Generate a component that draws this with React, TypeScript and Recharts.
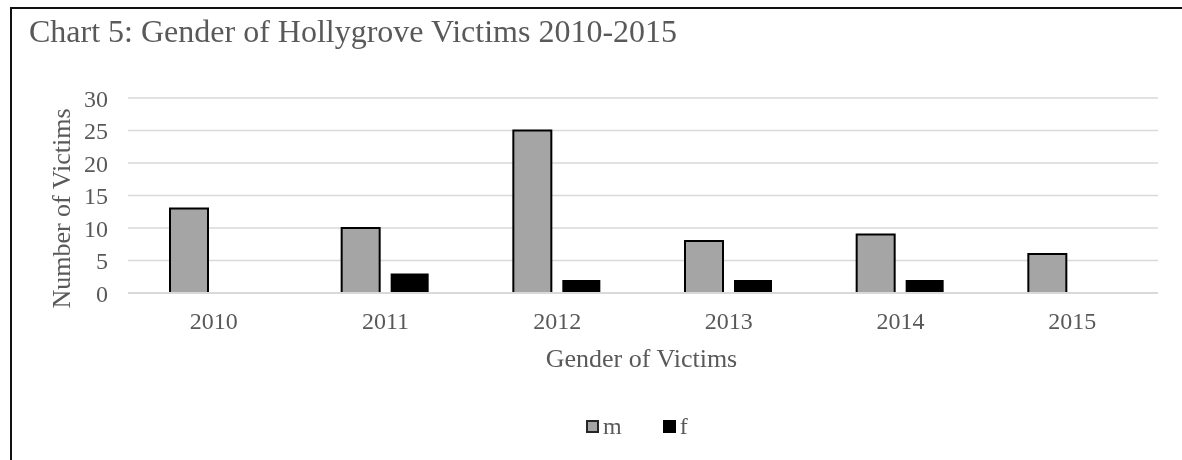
import { BarChart, Bar, XAxis, YAxis, CartesianGrid, Legend, ReferenceLine } from "recharts";

const years = ["2010", "2011", "2012", "2013", "2014", "2015"];
const male = [13, 10, 25, 8, 9, 6];
const female = [0, 3, 2, 2, 2, 0];
const yTicks = [0, 5, 10, 15, 20, 25, 30];
const seriesOrder = ["m", "f"];

const data = years.map((year, i) => ({ year, m: male[i], f: female[i] }));

const FONT = '"Liberation Serif", "Times New Roman", serif';
const TEXT = "#595959";
const GRID = "#d9d9d9";

// legend swatches: grey box with dark outline for m, solid black for f
const LegendContent = ({ payload }: any) => {
  const items = [...(payload || [])].sort(
    (a: any, b: any) => seriesOrder.indexOf(a.dataKey) - seriesOrder.indexOf(b.dataKey)
  );
  return (
    <div style={{ display: "flex", alignItems: "center", height: 30, fontFamily: FONT, fontSize: 24, color: TEXT }}>
      {items.map((entry: any) => (
        <div key={entry.value} style={{ display: "flex", alignItems: "center", marginRight: 41 }}>
          <span
            style={{
              display: "inline-block",
              width: 13,
              height: 13,
              boxSizing: "border-box",
              background: entry.color,
              border: entry.dataKey === "m" ? "2px solid #262626" : "none",
              marginRight: 4,
            }}
          />
          <span style={{ lineHeight: "30px" }}>{entry.value}</span>
        </div>
      ))}
    </div>
  );
};

const YTitle = ({ viewBox }: any) => {
  const x = viewBox.x + 2;
  const y = viewBox.y + viewBox.height / 2 + 13;
  return (
    <text x={x} y={y} transform={`rotate(-90 ${x} ${y})`} textAnchor="middle" fontSize={26} fill={TEXT} fontFamily={FONT}>
      Number of Victims
    </text>
  );
};

const XTitle = ({ viewBox }: any) => (
  <text x={viewBox.x + viewBox.width / 2 - 1.5} y={viewBox.y + 74} textAnchor="middle" fontSize={26} fill={TEXT} fontFamily={FONT}>
    Gender of Victims
  </text>
);

export default function App() {
  return (
    <div>
      {/* frame of the chart, runs past the right and bottom edges */}
      <div style={{ position: "fixed", left: 10, top: 7, width: 1300, height: 600, border: "2px solid #111" }} />

      <div style={{ position: "fixed", left: 0, top: 0, width: 1182, height: 460 }}>
        <BarChart
          width={1182}
          height={460}
          data={data}
          margin={{ top: 98, right: 24, left: 68, bottom: 107 }}
          barSize={38}
          barGap={11}
          style={{ fontFamily: FONT }}
        >
          <CartesianGrid vertical={false} stroke={GRID} strokeWidth={1.5} />
          <XAxis
            dataKey="year"
            axisLine={false}
            tickLine={false}
            height={30}
            tickMargin={13}
            tick={{ fill: TEXT, fontSize: 24, fontFamily: FONT }}
            label={{ content: XTitle }}
          />
          <YAxis
            domain={[0, 30]}
            ticks={yTicks}
            width={60}
            axisLine={false}
            tickLine={false}
            tickMargin={14}
            tick={{ fill: TEXT, fontSize: 24, fontFamily: FONT }}
            label={{ content: YTitle }}
          />
          <Bar dataKey="m" name="m" fill="#a5a5a5" stroke="#000" strokeWidth={2} isAnimationActive={false} />
          <Bar dataKey="f" name="f" fill="#000" isAnimationActive={false} />
          <ReferenceLine y={0} stroke={GRID} strokeWidth={2} />
          <Legend
            content={LegendContent}
            wrapperStyle={{ position: "absolute", top: 411, left: 586, width: 300, height: 30 }}
          />
        </BarChart>
      </div>

      <div
        style={{
          position: "fixed",
          left: 29,
          top: 15,
          fontFamily: FONT,
          fontSize: 32,
          lineHeight: "32px",
          color: TEXT,
          whiteSpace: "nowrap",
        }}
      >
        Chart 5: Gender of Hollygrove Victims 2010-2015
      </div>
    </div>
  );
}
